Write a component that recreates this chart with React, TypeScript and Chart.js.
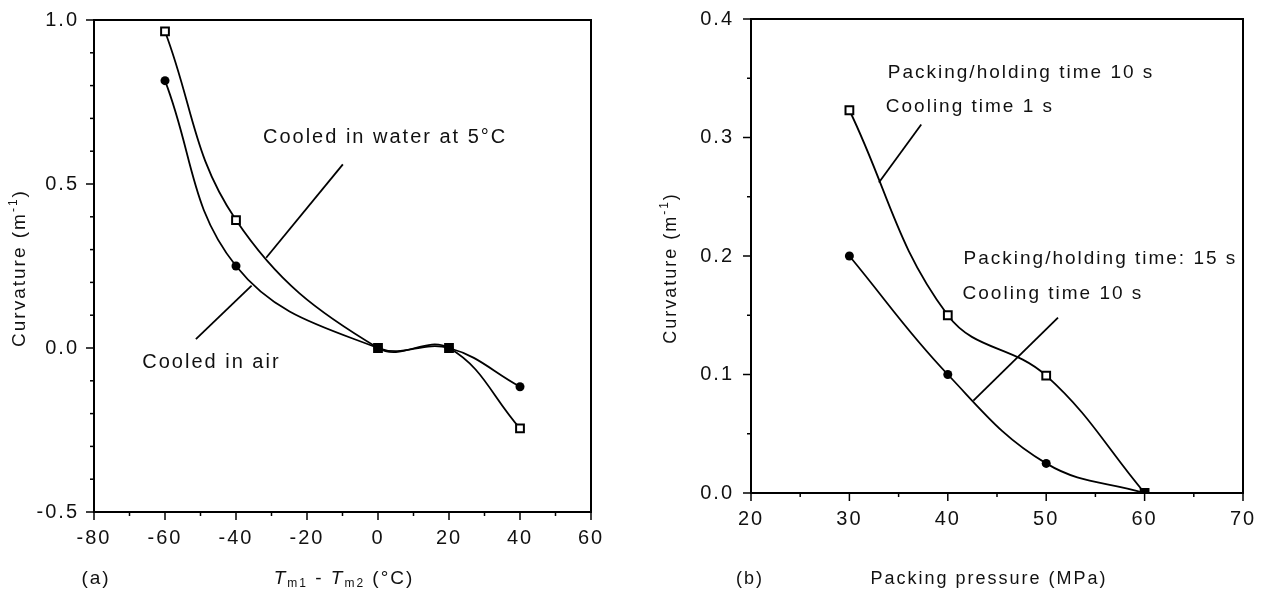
import React, { useEffect, useRef } from 'react';
import { Chart, registerables } from 'chart.js';
Chart.register(...registerables);

// ---------- Panel (a) data ----------
const tempDiff = [-60, -40, 0, 20, 40];
const curvWater = [0.965, 0.39, 0, 0, -0.245];
const curvAir = [0.815, 0.25, 0, 0, -0.118];
const leftXMajor = [-80, -60, -40, -20, 0, 20, 40, 60];
const leftXTickLabels = ['-80', '-60', '-40', '-20', '0', '20', '40', '60'];
const leftYMajor = [-0.5, 0, 0.5, 1.0];
const leftYTickLabels = ['-0.5', '0.0', '0.5', '1.0'];
const waterLeaderX = [-9.9, -31.5];
const waterLeaderY = [0.56, 0.275];
const airLeaderX = [-35.6, -51.3];
const airLeaderY = [0.19, 0.027];

// ---------- Panel (b) data ----------
const pressure = [30, 40, 50, 60];
const curvCool1 = [0.323, 0.15, 0.099, 0];
const curvCool10 = [0.2, 0.1, 0.025, 0];
const rightXMajor = [20, 30, 40, 50, 60, 70];
const rightXTickLabels = ['20', '30', '40', '50', '60', '70'];
const rightYMajor = [0, 0.1, 0.2, 0.3, 0.4];
const rightYTickLabels = ['0.0', '0.1', '0.2', '0.3', '0.4'];
const cool1LeaderX = [37.3, 33.0];
const cool1LeaderY = [0.311, 0.262];
const cool10LeaderX = [51.2, 42.6];
const cool10LeaderY = [0.148, 0.078];

const FONT = '"Liberation Sans", Arial, Helvetica, sans-serif';
const SPACING = '2px';
const INK = '#111';

const leftNotes = [
  { text: 'Cooled in water at 5°C', x: -32.4, y: 0.643 },
  { text: 'Cooled in air', x: -66.4, y: -0.043 },
];
const rightNotes = [
  { text: 'Packing/holding time 10 s', x: 33.9, y: 0.355 },
  { text: 'Cooling time 1 s', x: 33.7, y: 0.326 },
  { text: 'Packing/holding time: 15 s', x: 41.6, y: 0.198 },
  { text: 'Cooling time 10 s', x: 41.5, y: 0.168 },
];

const f = (size: number, italic = false) => `${italic ? 'italic ' : ''}${size}px ${FONT}`;

type Part = { text: string; font: string; dy?: number };

function drawRich(ctx: CanvasRenderingContext2D, parts: Part[], cx: number, cy: number) {
  let total = 0;
  parts.forEach((p) => {
    ctx.font = p.font;
    total += ctx.measureText(p.text).width;
  });
  let x = cx - total / 2;
  parts.forEach((p) => {
    ctx.font = p.font;
    ctx.fillText(p.text, x, cy + (p.dy || 0));
    x += ctx.measureText(p.text).width;
  });
}

const majorIndex = (v: number, majors: number[]) =>
  majors.findIndex((m) => Math.abs(m - v) < 1e-6);

const pts = (xs: number[], ys: number[]) => xs.map((x, i) => ({ x, y: ys[i] }));

type PanelCfg = {
  xMin: number; xMax: number; xStep: number;
  yMin: number; yMax: number; yStep: number;
  xMajor: number[]; xLabels: string[];
  yMajor: number[]; yLabels: string[];
  yAxisWidth: number; xAxisHeight: number;
  padding: { left: number; right: number; top: number; bottom: number };
  yPad: number; xPad: number;
  tickSize: number; noteSize: number; titleSize: number;
  xTitle: Part[]; xTitleX: number; titleY: number;
  yTitleX: number; yTitleY: number;
  panelLabel: string; panelLabelX: number;
  notes: { text: string; x: number; y: number }[];
  datasets: any[];
};

function makePlugin(cfg: PanelCfg) {
  return {
    id: 'panelDecor',
    beforeLayout(chart: any) {
      chart.ctx.letterSpacing = SPACING;
    },
    beforeDraw(chart: any) {
      chart.ctx.letterSpacing = SPACING;
    },
    afterDraw(chart: any) {
      const { ctx, chartArea: a, scales } = chart;
      ctx.save();
      ctx.letterSpacing = SPACING;
      ctx.strokeStyle = '#000';
      ctx.lineWidth = 2;
      ctx.strokeRect(a.left, a.top, a.right - a.left, a.bottom - a.top);
      ctx.lineWidth = 1.5;
      const xs = scales.x;
      xs.ticks.forEach((t: any) => {
        const p = xs.getPixelForValue(t.value);
        const len = majorIndex(t.value, cfg.xMajor) >= 0 ? 8 : 4;
        ctx.beginPath();
        ctx.moveTo(p, a.bottom);
        ctx.lineTo(p, a.bottom + len);
        ctx.stroke();
      });
      const ys = scales.y;
      ys.ticks.forEach((t: any) => {
        const p = ys.getPixelForValue(t.value);
        const len = majorIndex(t.value, cfg.yMajor) >= 0 ? 8 : 4;
        ctx.beginPath();
        ctx.moveTo(a.left - len, p);
        ctx.lineTo(a.left, p);
        ctx.stroke();
      });

      ctx.fillStyle = INK;
      ctx.textBaseline = 'middle';
      ctx.textAlign = 'left';
      ctx.font = f(cfg.noteSize);
      cfg.notes.forEach((n) => {
        ctx.fillText(n.text, xs.getPixelForValue(n.x), ys.getPixelForValue(n.y));
      });

      drawRich(ctx, cfg.xTitle, cfg.xTitleX, cfg.titleY);
      drawRich(ctx, [{ text: cfg.panelLabel, font: f(cfg.titleSize) }], cfg.panelLabelX, cfg.titleY);
      ctx.save();
      ctx.translate(cfg.yTitleX, cfg.yTitleY);
      ctx.rotate(-Math.PI / 2);
      drawRich(
        ctx,
        [
          { text: 'Curvature (m', font: f(cfg.titleSize) },
          { text: '-1', font: f(12), dy: -6 },
          { text: ')', font: f(cfg.titleSize) },
        ],
        0,
        0
      );
      ctx.restore();
      ctx.restore();
    },
  };
}

function Panel({ cfg, width, left }: { cfg: PanelCfg; width: number; left: number }) {
  const ref = useRef<HTMLCanvasElement | null>(null);
  useEffect(() => {
    if (!ref.current) return;
    const zeroPad = (s: any) => {
      s.paddingTop = 0;
      s.paddingBottom = 0;
      s.paddingLeft = 0;
      s.paddingRight = 0;
    };
    const chart = new Chart(ref.current, {
      type: 'line',
      data: { datasets: cfg.datasets },
      plugins: [makePlugin(cfg)],
      options: {
        animation: false,
        responsive: false,
        devicePixelRatio: 1,
        layout: { padding: cfg.padding },
        plugins: { legend: { display: false }, tooltip: { enabled: false } },
        scales: {
          x: {
            type: 'linear',
            min: cfg.xMin,
            max: cfg.xMax,
            grid: { display: false, drawTicks: false, tickLength: 0 },
            border: { display: false },
            afterFit: (s: any) => {
              s.height = cfg.xAxisHeight;
              zeroPad(s);
            },
            ticks: {
              stepSize: cfg.xStep,
              autoSkip: false,
              maxRotation: 0,
              maxTicksLimit: 100,
              padding: cfg.xPad,
              color: INK,
              font: { family: FONT, size: cfg.tickSize },
              callback: (v: any) => {
                const i = majorIndex(Number(v), cfg.xMajor);
                return i >= 0 ? cfg.xLabels[i] : '';
              },
            },
          },
          y: {
            type: 'linear',
            min: cfg.yMin,
            max: cfg.yMax,
            grid: { display: false, drawTicks: false, tickLength: 0 },
            border: { display: false },
            afterFit: (s: any) => {
              s.width = cfg.yAxisWidth;
              zeroPad(s);
            },
            ticks: {
              stepSize: cfg.yStep,
              autoSkip: false,
              maxTicksLimit: 100,
              padding: cfg.yPad,
              color: INK,
              font: { family: FONT, size: cfg.tickSize },
              callback: (v: any) => {
                const i = majorIndex(Number(v), cfg.yMajor);
                return i >= 0 ? cfg.yLabels[i] : '';
              },
            },
          },
        },
      } as any,
    });
    return () => chart.destroy();
  }, []);
  return (
    <canvas
      ref={ref}
      width={width}
      height={601}
      style={{ position: 'absolute', left, top: 0, width, height: 601 }}
    />
  );
}

const curveStyle = { borderColor: '#000', borderWidth: 1.8, tension: 0.4, fill: false };
const circleStyle = {
  ...curveStyle,
  pointStyle: 'circle',
  pointRadius: 4.5,
  pointBackgroundColor: '#000',
  pointBorderColor: '#000',
  pointBorderWidth: 0,
};
const squareStyle = {
  ...curveStyle,
  pointStyle: 'rect',
  pointRadius: 5.5,
  pointBackgroundColor: '#fff',
  pointBorderColor: '#000',
  pointBorderWidth: 2,
};
const leaderStyle = { borderColor: '#000', borderWidth: 1.8, tension: 0, pointRadius: 0, fill: false };

const leftCfg: PanelCfg = {
  xMin: -80, xMax: 60, xStep: 10,
  yMin: -0.5, yMax: 1.0, yStep: 0.1,
  xMajor: leftXMajor, xLabels: leftXTickLabels,
  yMajor: leftYMajor, yLabels: leftYTickLabels,
  yAxisWidth: 94, xAxisHeight: 89,
  padding: { left: 0, right: 39, top: 20, bottom: 0 },
  yPad: 15, xPad: 14,
  tickSize: 20, noteSize: 20, titleSize: 19,
  xTitle: [
    { text: 'T', font: f(19, true) },
    { text: 'm1', font: f(12), dy: 5 },
    { text: ' - ', font: f(19) },
    { text: 'T', font: f(19, true) },
    { text: 'm2', font: f(12), dy: 5 },
    { text: ' (°C)', font: f(19) },
  ],
  xTitleX: 344, titleY: 579,
  yTitleX: 20, yTitleY: 268,
  panelLabel: '(a)', panelLabelX: 96,
  notes: leftNotes,
  datasets: [
    { ...circleStyle, data: pts(tempDiff, curvAir) },
    { ...squareStyle, data: pts(tempDiff, curvWater) },
    { ...leaderStyle, data: pts(waterLeaderX, waterLeaderY) },
    { ...leaderStyle, data: pts(airLeaderX, airLeaderY) },
  ],
};

const rightCfg: PanelCfg = {
  xMin: 20, xMax: 70, xStep: 5,
  yMin: 0, yMax: 0.4, yStep: 0.05,
  xMajor: rightXMajor, xLabels: rightXTickLabels,
  yMajor: rightYMajor, yLabels: rightYTickLabels,
  yAxisWidth: 121, xAxisHeight: 108,
  padding: { left: 0, right: 22, top: 19, bottom: 0 },
  yPad: 17, xPad: 14,
  tickSize: 20, noteSize: 19, titleSize: 18,
  xTitle: [{ text: 'Packing pressure (MPa)', font: f(18) }],
  xTitleX: 359, titleY: 579,
  yTitleX: 41, yTitleY: 268,
  panelLabel: '(b)', panelLabelX: 120,
  notes: rightNotes,
  datasets: [
    { ...circleStyle, data: pts(pressure, curvCool10) },
    { ...squareStyle, data: pts(pressure, curvCool1) },
    { ...leaderStyle, data: pts(cool1LeaderX, cool1LeaderY) },
    { ...leaderStyle, data: pts(cool10LeaderX, cool10LeaderY) },
  ],
};

export default function App() {
  return (
    <div style={{ position: 'fixed', left: 0, top: 0, width: 1265, height: 601, background: '#fff' }}>
      <Panel cfg={leftCfg} width={630} left={0} />
      <Panel cfg={rightCfg} width={635} left={630} />
    </div>
  );
}
